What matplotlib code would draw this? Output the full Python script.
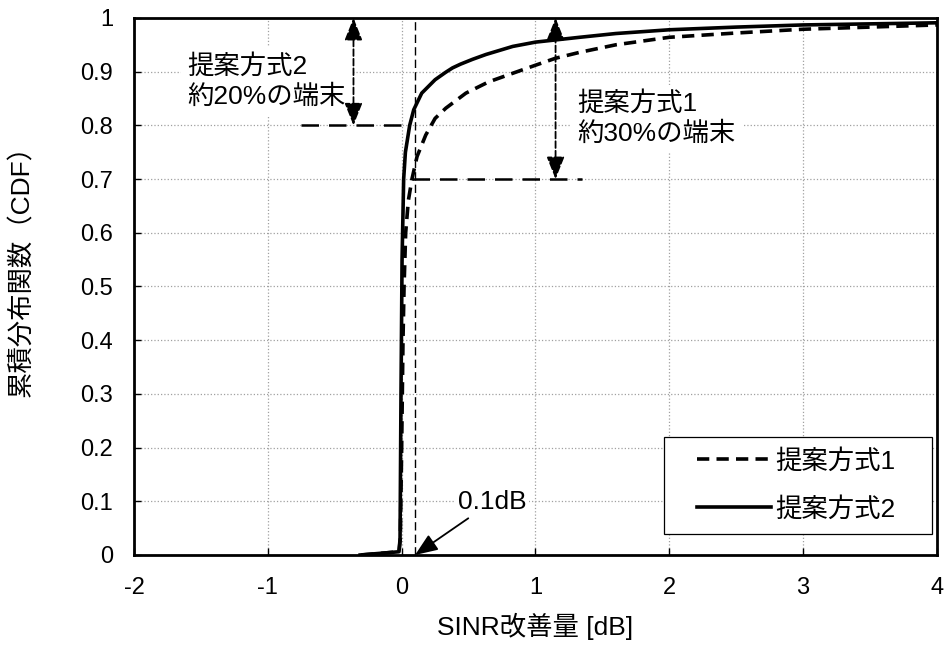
import matplotlib
matplotlib.use("Agg")
import matplotlib.pyplot as plt
from matplotlib.patches import Rectangle

plt.rcParams['font.family'] = ['Liberation Sans', 'Noto Sans CJK JP']

# 提案方式1 (dashed) CDF points
x_prop1 = [-0.30, -0.02, -0.01, 0.0, 0.01, 0.018, 0.03, 0.05, 0.077, 0.115, 0.18, 0.25,
           0.33, 0.48, 0.65, 0.83, 1.0, 1.15, 1.33, 1.6, 2.0, 2.5, 3.0, 3.5, 4.0]
cdf_prop1 = [0.0, 0.006, 0.03, 0.2, 0.4, 0.5, 0.6, 0.66, 0.70, 0.742, 0.782, 0.813,
             0.832, 0.86, 0.881, 0.897, 0.912, 0.925, 0.936, 0.95, 0.964, 0.972, 0.979, 0.983, 0.987]

# 提案方式2 (solid) CDF points
x_prop2 = [-0.31, -0.02, -0.012, -0.005, 0.003, 0.015, 0.028, 0.06, 0.09, 0.15, 0.25,
           0.33, 0.38, 0.44, 0.53, 0.63, 0.83, 1.0, 1.33, 1.6, 2.0, 2.5, 3.0, 3.5, 4.0]
cdf_prop2 = [0.0, 0.006, 0.03, 0.3, 0.55, 0.70, 0.75, 0.80, 0.829, 0.86, 0.885,
             0.899, 0.907, 0.914, 0.923, 0.932, 0.947, 0.955, 0.964, 0.971, 0.978, 0.983,
             0.987, 0.989, 0.991]

labels = ['提案方式1', '提案方式2']
x_ticks = [-2, -1, 0, 1, 2, 3, 4]
y_ticks = [0, 0.1, 0.2, 0.3, 0.4, 0.5, 0.6, 0.7, 0.8, 0.9, 1]

fig = plt.figure(figsize=(9.45, 6.53), dpi=100)
ax = fig.add_axes([0.1418, 0.1501, 0.8497, 0.8224])

ax.plot(x_prop1, cdf_prop1, color='black', lw=2.6, dashes=(3.4, 2), label=labels[0], zorder=4)
ax.plot(x_prop2, cdf_prop2, color='black', lw=2.6, label=labels[1], zorder=4)

ax.set_xlim(-2, 4)
ax.set_ylim(0, 1)
ax.set_xticks(x_ticks)
ax.set_yticks(y_ticks)
ax.set_xticklabels([str(v) for v in x_ticks], fontsize=17)
ax.set_yticklabels(['0'] + [f'{v:.1f}' for v in y_ticks[1:-1]] + ['1'], fontsize=17)
ax.tick_params(axis='x', direction='in', length=5, width=1, pad=16)
ax.tick_params(axis='y', direction='in', length=5, width=1, pad=15)
ax.grid(True, color='#a0a0a0', ls=':', lw=0.9)
for sp in ax.spines.values():
    sp.set_linewidth(2)

ax.set_xlabel('SINR改善量 [dB]', fontsize=19, labelpad=10)
ax.set_ylabel('累積分布関数（CDF）', fontsize=19)
ax.yaxis.set_label_coords(-0.125, 0.54)

# 0.1 dB reference line
ax.axvline(0.1, color='black', lw=1, dashes=(6, 3), zorder=3)

# horizontal guides at 80% and 70%
ax.plot([-0.75, 0.04], [0.8, 0.8], color='black', lw=1.8, dashes=(7, 4), zorder=3)
ax.plot([0.08, 1.35], [0.7, 0.7], color='black', lw=1.8, dashes=(7, 4), zorder=3)

arrow_kw = dict(arrowstyle='<|-|>,head_length=0.6,head_width=0.24', color='black',
                lw=1.3, ls='--', mutation_scale=23, shrinkA=0, shrinkB=0)
ax.annotate('', xy=(-0.36, 1.0), xytext=(-0.36, 0.8), arrowprops=arrow_kw, zorder=5)
ax.annotate('', xy=(1.15, 1.0), xytext=(1.15, 0.7), arrowprops=arrow_kw, zorder=5)

box = dict(facecolor='white', edgecolor='none', pad=5)
ax.text(-1.6, 0.882, '提案方式2\n約20%の端末', fontsize=19, va='center', ha='left',
        linespacing=1.3, bbox=box, zorder=2)
ax.text(1.31, 0.812, '提案方式1\n約30%の端末', fontsize=19, va='center', ha='left',
        linespacing=1.3, bbox=box, zorder=2)

ax.annotate('0.1dB', xy=(0.1, 0.0), xytext=(0.42, 0.099), fontsize=19, va='center', ha='left',
            arrowprops=dict(arrowstyle='-|>,head_length=0.6,head_width=0.24', color='black',
                            lw=1.3, mutation_scale=23, shrinkA=2, shrinkB=0),
            bbox=dict(facecolor='white', edgecolor='none', pad=2), zorder=5)

# legend frame drawn separately so the box can be wider than its contents
ax.add_patch(Rectangle((0.660, 0.039), 0.334, 0.181, transform=ax.transAxes,
                       facecolor='white', edgecolor='black', lw=0.9, zorder=6))
leg = ax.legend(loc='center', bbox_to_anchor=(0.825, 0.13), borderaxespad=0,
                fontsize=19, frameon=False, handlelength=2.8, handletextpad=0.15,
                borderpad=0, labelspacing=0.88)
leg.set_zorder(7)

fig.savefig('out.png', dpi=100)
